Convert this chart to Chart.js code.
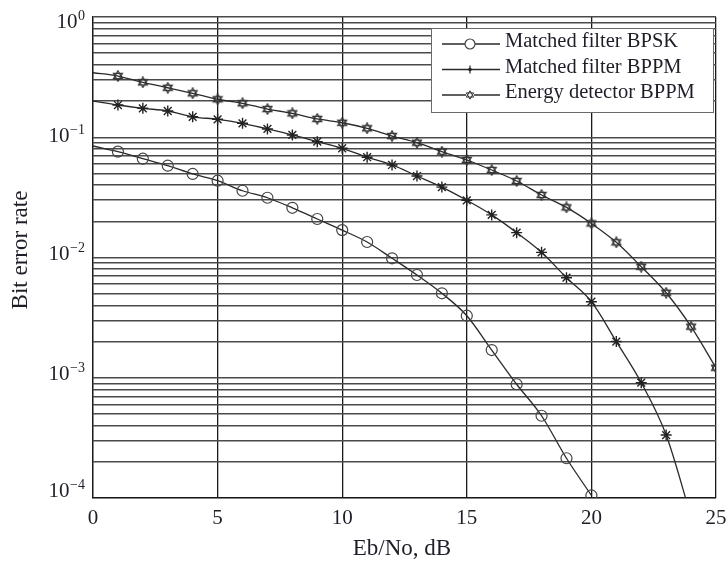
<!DOCTYPE html>
<html><head><meta charset="utf-8">
<script src="https://cdn.jsdelivr.net/npm/chart.js@4.4.1/dist/chart.umd.min.js"></script>
<style>html,body{margin:0;padding:0;background:#fff;}#wrap{width:728px;height:570px;position:relative;}</style>
</head><body><div id="wrap"><canvas id="c" width="728" height="570"></canvas></div>
<script>
// ---- data ----
const xValues = [0,1,2,3,4,5,6,7,8,9,10,11,12,13,14,15,16,17,18,19,20,21,22,23,24,25];
const seriesNames = ['Matched filter BPSK','Matched filter BPPM','Energy detector BPPM'];
const bpsk = [0.0846,0.0759,0.0663,0.0580,0.0495,0.0435,0.0359,0.0314,0.0259,0.0209,0.0169,
  0.01345,0.00985,0.00715,0.00504,0.00328,0.00170,0.000883,0.000483,0.000214,0.000105];
const bppm = [0.200,0.1854,0.174,0.1653,0.148,0.141,0.1306,0.1172,0.1045,0.0919,0.0810,
  0.0682,0.0588,0.0476,0.0385,0.0299,0.0226,0.0161,0.01104,0.00679,0.00429,0.00200,0.000910,0.000334,0.00007];
const energy = [0.344,0.323,0.286,0.258,0.232,0.207,0.1916,0.1717,0.158,0.142,0.132,
  0.1187,0.1024,0.0901,0.0759,0.0647,0.0534,0.0433,0.0331,0.0261,0.0192,0.01337,0.00838,0.00509,0.00266,0.00121];
const xTicks = [0,5,10,15,20,25];
const yDecades = [0,-1,-2,-3,-4];
const xTitle = 'Eb/No, dB';
const yTitle = 'Bit error rate';

const SERIF = '"Liberation Serif","Times New Roman",serif';

function toPoints(arr){ return arr.map((v,i)=>({x:xValues[i], y:v})); }
function radii(arr, r, lastHidden){ return arr.map((v,i)=> (i===0 || (lastHidden && i===arr.length-1)) ? 0 : r); }

// hexagram marker
function hexagram(size, lw, col){
  const c = document.createElement('canvas');
  c.width = size; c.height = size;
  const g = c.getContext('2d');
  const cx = size/2, cy = size/2, R = size/2 - 0.8;
  g.strokeStyle = col; g.lineWidth = lw;
  for (let t=0;t<2;t++){
    g.beginPath();
    for (let k=0;k<3;k++){
      const a = -Math.PI/2 + t*Math.PI + k*2*Math.PI/3;
      const px = cx + R*Math.cos(a), py = cy + R*Math.sin(a);
      if(k===0) g.moveTo(px,py); else g.lineTo(px,py);
    }
    g.closePath(); g.stroke();
  }
  return c;
}
const hexBig = hexagram(12, 1.2, '#333');
const hexSmall = hexagram(10, 1, '#333');

const lineColor = '#2a2a2a';

const datasets = [
  {label: seriesNames[0], data: toPoints(bpsk), borderColor: lineColor, borderWidth: 1.3,
   pointStyle: 'circle', pointRadius: radii(bpsk,5.5,false), pointBorderColor: '#444', pointBorderWidth: 1.2,
   pointBackgroundColor: 'rgba(0,0,0,0)', cubicInterpolationMode: 'monotone', fill: false},
  {label: seriesNames[1], data: toPoints(bppm), borderColor: lineColor, borderWidth: 1.3,
   pointStyle: 'star', pointRadius: radii(bppm,5.5,true), pointBorderColor: '#222', pointBorderWidth: 1.4,
   pointBackgroundColor: '#222', cubicInterpolationMode: 'monotone', fill: false},
  {label: seriesNames[2], data: toPoints(energy), borderColor: lineColor, borderWidth: 1.3,
   pointStyle: hexBig, pointRadius: radii(energy,6,false), cubicInterpolationMode: 'monotone', fill: false}
];

const decoPlugin = {
  id: 'deco',
  afterDraw(chart){
    const ctx = chart.ctx;
    const ys = chart.scales.y;
    ctx.save();
    ctx.fillStyle = '#1e1e28';
    // y tick labels with superscripts
    const yOff = {0: 4.5, '-1': -2, '-2': -4, '-3': -4, '-4': -8};
    yDecades.forEach(e=>{
      const py = ys.getPixelForValue(Math.pow(10,e)) + yOff[e];
      const expTxt = e===0 ? '0' : '\u2212' + Math.abs(e);
      ctx.font = '14px ' + SERIF;
      ctx.textAlign = 'right'; ctx.textBaseline = 'middle';
      const ew = ctx.measureText(expTxt).width;
      ctx.fillText(expTxt, 85, py - 5);
      ctx.font = '21px ' + SERIF;
      ctx.fillText('10', 85 - ew - 0.5, py + 1);
    });
    // axis titles
    ctx.font = '23px ' + SERIF;
    ctx.textAlign = 'center'; ctx.textBaseline = 'middle';
    ctx.fillText(xTitle, 402, 549);
    ctx.save();
    ctx.translate(21, 250); ctx.rotate(-Math.PI/2);
    ctx.fillText(yTitle, 0, 0);
    ctx.restore();
    // legend
    const bx = 431.5, by = 28.5, bw = 282, bh = 84;
    ctx.fillStyle = '#fff'; ctx.fillRect(bx, by, bw, bh);
    ctx.strokeStyle = '#6a6a6a'; ctx.lineWidth = 1; ctx.strokeRect(bx, by, bw, bh);
    const rows = [44, 69.5, 95];
    ctx.font = '20.5px ' + SERIF;
    ctx.textAlign = 'left'; ctx.textBaseline = 'middle';
    rows.forEach((ry,i)=>{
      ctx.strokeStyle = lineColor; ctx.lineWidth = 1.3;
      ctx.beginPath(); ctx.moveTo(442, ry); ctx.lineTo(500, ry); ctx.stroke();
      const mx = 470;
      if (i===0){
        ctx.fillStyle='#fff'; ctx.beginPath(); ctx.arc(mx, ry, 5, 0, Math.PI*2); ctx.fill();
        ctx.strokeStyle='#444'; ctx.lineWidth=1.2; ctx.stroke();
      } else if (i===1){
        ctx.fillStyle='#222'; ctx.beginPath(); ctx.arc(mx, ry, 1.8, 0, Math.PI*2); ctx.fill();
        ctx.strokeStyle='#222'; ctx.lineWidth=1.2;
        ctx.beginPath(); ctx.moveTo(mx, ry-4); ctx.lineTo(mx, ry+4); ctx.stroke();
      } else {
        ctx.fillStyle='#fff'; ctx.beginPath(); ctx.arc(mx, ry, 4, 0, Math.PI*2); ctx.fill();
        ctx.drawImage(hexSmall, mx - 5, ry - 5);
      }
      ctx.fillStyle = '#1e1e28';
      ctx.fillText(seriesNames[i], 505, ry - 2);
    });
    ctx.restore();
  }
};

new Chart(document.getElementById('c'), {
  type: 'line',
  data: { datasets },
  options: {
    responsive: false, animation: false, devicePixelRatio: 1,
    layout: { padding: { left: 0, top: 17, right: 12, bottom: 0 } },
    plugins: { legend: { display: false }, tooltip: { enabled: false } },
    scales: {
      x: {
        type: 'linear', min: 0, max: 25,
        afterBuildTicks(s){ s.ticks = xTicks.map(v=>({value:v})); },
        afterFit(s){ s.height = 72; s.paddingLeft = 0; s.paddingRight = 0; },
        grid: { color: '#1a1a1a', lineWidth: 1.3, drawTicks: false },
        border: { color: '#1a1a1a', width: 1.3 },
        ticks: { font: { family: SERIF, size: 21 }, color: '#1e1e28', padding: 8, autoSkip: false, maxRotation: 0 }
      },
      y: {
        type: 'logarithmic', min: 1e-4, max: 1,
        afterBuildTicks(s){
          const t = [];
          for (let e=-4; e<0; e++) for (let m=1; m<=9; m++) t.push({value: m*Math.pow(10,e)});
          t.push({value: 1});
          s.ticks = t;
        },
        afterFit(s){ s.width = 93; s.paddingTop = 0; s.paddingBottom = 0; },
        grid: { color: '#4a4a4a', lineWidth: 1.4, drawTicks: false },
        border: { color: '#1a1a1a', width: 1.3 },
        ticks: { display: false, autoSkip: false }
      }
    }
  },
  plugins: [decoPlugin]
});
</script></body></html>
